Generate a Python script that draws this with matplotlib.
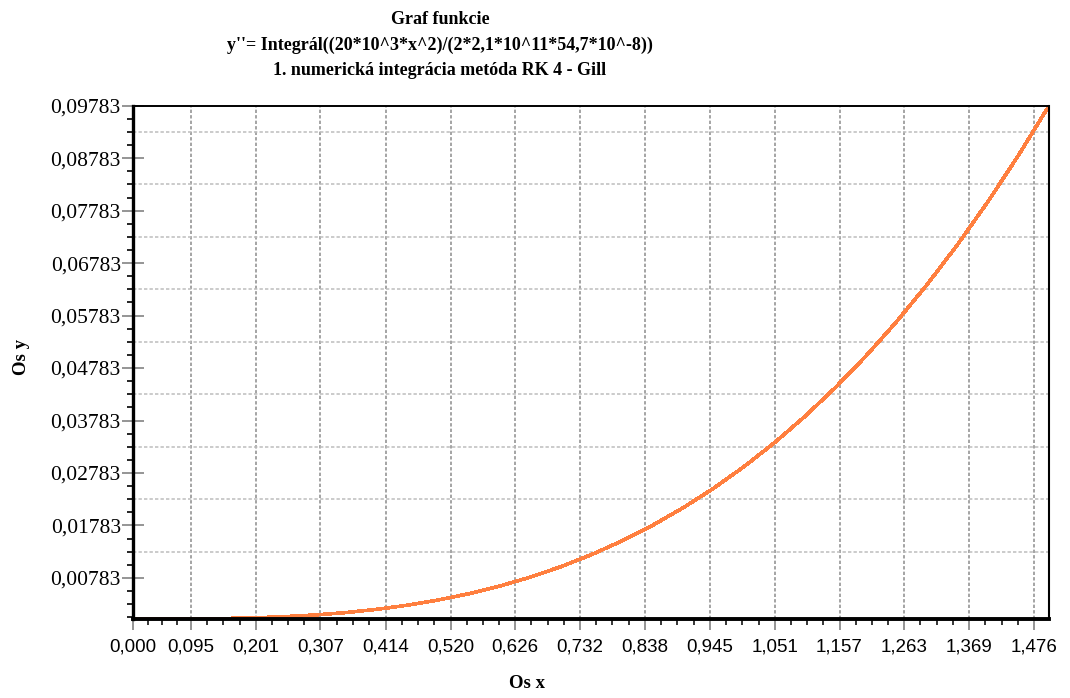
import numpy as np
import matplotlib.pyplot as plt
from matplotlib.ticker import FixedLocator, FixedFormatter

# data (x, y'')
x_vals = [0.00, 0.05, 0.10, 0.15, 0.20, 0.25, 0.30, 0.35, 0.40, 0.45,
          0.50, 0.55, 0.60, 0.65, 0.70, 0.75, 0.80, 0.85, 0.90, 0.95,
          1.00, 1.05, 1.10, 1.15, 1.20, 1.25, 1.30, 1.35, 1.40, 1.45, 1.50]
y_vals = [0.0, 0.0000036, 0.000029, 0.000098, 0.000232, 0.000453, 0.000783,
          0.001243, 0.001855, 0.002641, 0.003623, 0.004823, 0.006261,
          0.007961, 0.009943, 0.012229, 0.014841, 0.017802, 0.021132,
          0.024853, 0.028987, 0.033556, 0.038582, 0.044086, 0.050089,
          0.056615, 0.063684, 0.071319, 0.079541, 0.088371, 0.097830]

x_ticks = [0.000, 0.095, 0.201, 0.307, 0.414, 0.520, 0.626, 0.732, 0.838,
           0.945, 1.051, 1.157, 1.263, 1.369, 1.476]
x_labels = ['0,000', '0,095', '0,201', '0,307', '0,414', '0,520', '0,626',
            '0,732', '0,838', '0,945', '1,051', '1,157', '1,263', '1,369',
            '1,476']
y_ticks = [0.00783, 0.01783, 0.02783, 0.03783, 0.04783, 0.05783, 0.06783,
           0.07783, 0.08783, 0.09783]
y_labels = ['0,00783', '0,01783', '0,02783', '0,03783', '0,04783',
            '0,05783', '0,06783', '0,07783', '0,08783', '0,09783']
y_grid = [0.01283, 0.02283, 0.03283, 0.04283, 0.05283, 0.06283, 0.07283,
          0.08283, 0.09283]

title_lines = ['Graf funkcie',
               "y''= Integrál((20*10^3*x^2)/(2*2,1*10^11*54,7*10^-8))",
               '1. numerická integrácia metóda RK 4 - Gill']

serif = 'Liberation Serif'
sans = 'Liberation Sans'

fig = plt.figure(figsize=(10.7, 6.98), dpi=100)
ax = fig.add_axes([133 / 1070, 1 - 619 / 698, (1049 - 133) / 1070, (619 - 105.7) / 698])

ax.set_xlim(0, 1.5)
ax.set_ylim(0, 0.09783)

# grid
for xv in x_ticks[1:]:
    ax.axvline(xv, color='#8c8c8c', lw=1.1, ls=(0, (2.2, 1.4)), zorder=1)
for yv in y_grid:
    ax.axhline(yv, color='#bdbdbd', lw=1.1, ls=(0, (2.2, 1.4)), zorder=1)

# curve sits under the thick axis line, like in the original
ax.plot(x_vals, y_vals, color='#ff7f3f', lw=1.9, antialiased=False, zorder=2.4)

# ticks
ax.xaxis.set_major_locator(FixedLocator(x_ticks))
ax.xaxis.set_major_formatter(FixedFormatter(x_labels))
x_minor = []
for a, b in zip(x_ticks[:-1], x_ticks[1:]):
    x_minor += [a + (b - a) * k / 4 for k in (1, 2, 3)]
ax.xaxis.set_minor_locator(FixedLocator(x_minor))

ax.yaxis.set_major_locator(FixedLocator(y_ticks))
ax.yaxis.set_major_formatter(FixedFormatter(y_labels))
y_minor = [0.00033 + 0.0025 * k for k in range(40) if 0.00033 + 0.0025 * k < 0.0978]
ax.yaxis.set_minor_locator(FixedLocator(y_minor))

ax.tick_params(axis='x', which='major', direction='out', length=8, width=1.3,
               color='#8c8c8c', pad=6, labelsize=13.5)
ax.tick_params(axis='x', which='minor', direction='out', length=4.5, width=1.1,
               color='black')
ax.tick_params(axis='y', which='major', direction='inout', length=15.5, width=1.3,
               color='#8c8c8c', pad=1, labelsize=15.5)
ax.tick_params(axis='y', which='minor', direction='out', length=4.5, width=1.2,
               color='black')

for lab in ax.get_xticklabels():
    lab.set_fontfamily(sans)
for lab in ax.get_yticklabels():
    lab.set_fontfamily(serif)

ax.spines['left'].set_linewidth(2.4)
ax.spines['bottom'].set_linewidth(2.8)
ax.spines['top'].set_linewidth(1.4)
ax.spines['right'].set_linewidth(1.5)

# titles and axis names
for i, line in enumerate(title_lines):
    fig.text(440 / 1070, 1 - (19.5 + 25.5 * i) / 698, line, ha='center', va='center',
             fontsize=13, fontweight='bold', fontfamily=serif)
fig.text(527 / 1070, 1 - 684 / 698, 'Os x', ha='center', va='center',
         fontsize=13.5, fontweight='bold', fontfamily=serif)
fig.text(22 / 1070, 1 - 357 / 698, 'Os y', ha='center', va='center', rotation=90,
         fontsize=13.5, fontweight='bold', fontfamily=serif)

fig.savefig('out.png', dpi=100)
